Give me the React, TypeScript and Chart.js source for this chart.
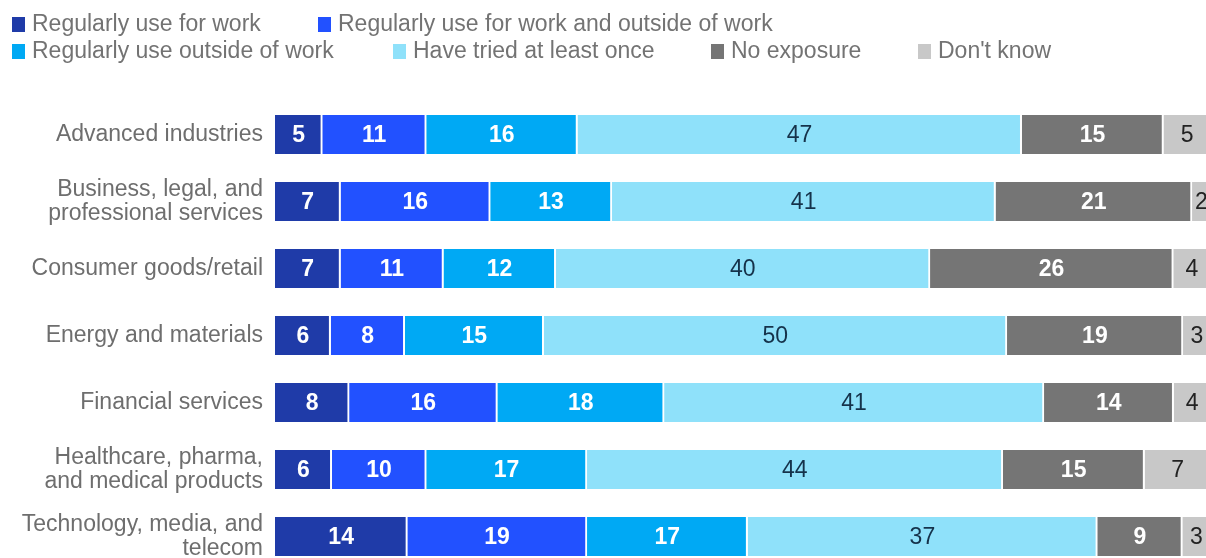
import { useEffect, useRef } from "react";
import { Chart, registerables } from "chart.js";

Chart.register(...registerables);

const CATEGORIES: string[][] = [
  ["Advanced industries"],
  ["Business, legal, and", "professional services"],
  ["Consumer goods/retail"],
  ["Energy and materials"],
  ["Financial services"],
  ["Healthcare, pharma,", "and medical products"],
  ["Technology, media, and", "telecom"],
];

const SERIES_LABELS = [
  "Regularly use for work",
  "Regularly use for work and outside of work",
  "Regularly use outside of work",
  "Have tried at least once",
  "No exposure",
  "Don't know",
];

const WORK = [5, 7, 7, 6, 8, 6, 14];
const WORK_AND_OUTSIDE = [11, 16, 11, 8, 16, 10, 19];
const OUTSIDE = [16, 13, 12, 15, 18, 17, 17];
const TRIED = [47, 41, 40, 50, 41, 44, 37];
const NO_EXPOSURE = [15, 21, 26, 19, 14, 15, 9];
const DONT_KNOW = [5, 2, 4, 3, 4, 7, 3];

const COLORS = ["#1f3ba8", "#2251ff", "#00a9f4", "#8fe1fa", "#757575", "#c8c8c8"];
const LABEL_COLORS = ["#ffffff", "#ffffff", "#ffffff", "#15324a", "#ffffff", "#222222"];
const LABEL_BOLD = [true, true, true, false, true, false];

const FONT = '"Liberation Sans", Arial, sans-serif';

// legend layout (rows of series indices and box x positions)
const LEGEND_ROWS = [
  { y: 24, items: [0, 1], xs: [12, 318] },
  { y: 51, items: [2, 3, 4, 5], xs: [12, 393, 711, 918] },
];

export default function App() {
  const ref = useRef<HTMLCanvasElement>(null);

  useEffect(() => {
    const canvas = ref.current;
    if (!canvas) return;
    const values = [WORK, WORK_AND_OUTSIDE, OUTSIDE, TRIED, NO_EXPOSURE, DONT_KNOW];
    const totals = CATEGORIES.map((_, i) => values.reduce((s, v) => s + v[i], 0));

    const datasets = SERIES_LABELS.map((label, k) => ({
      label,
      data: values[k].map((v, i) => (v / totals[i]) * 100),
      backgroundColor: COLORS[k],
      borderColor: "#ffffff",
      borderWidth: { top: 0, bottom: 0, left: 0, right: 2 },
      borderSkipped: false as const,
      barThickness: 39,
    }));

    const valueLabels = {
      id: "valueLabels",
      afterDatasetsDraw(chart: any) {
        const ctx = chart.ctx;
        ctx.save();
        ctx.textAlign = "center";
        ctx.textBaseline = "middle";
        chart.data.datasets.forEach((_: any, k: number) => {
          const meta = chart.getDatasetMeta(k);
          meta.data.forEach((bar: any, i: number) => {
            const cx = (bar.x + bar.base) / 2;
            ctx.font = `${LABEL_BOLD[k] ? "bold " : ""}23px ${FONT}`;
            ctx.fillStyle = LABEL_COLORS[k];
            ctx.fillText(String(values[k][i]), cx, bar.y + 1);
          });
        });
        ctx.restore();
      },
    };

    const legendPlugin = {
      id: "customLegend",
      afterDraw(chart: any) {
        const ctx = chart.ctx;
        ctx.save();
        ctx.textBaseline = "middle";
        ctx.textAlign = "left";
        ctx.font = `23px ${FONT}`;
        LEGEND_ROWS.forEach((row) => {
          row.items.forEach((k, j) => {
            const x = row.xs[j];
            ctx.fillStyle = COLORS[k];
            ctx.fillRect(x, row.y - 7, 13, 15);
            ctx.fillStyle = "#737373";
            ctx.fillText(chart.data.datasets[k].label, x + 20, row.y + 1);
          });
        });
        ctx.restore();
      },
    };

    const chart = new Chart(canvas, {
      type: "bar",
      data: { labels: CATEGORIES, datasets },
      options: {
        indexAxis: "y",
        responsive: false,
        animation: false,
        layout: { padding: { top: 101, bottom: 2, left: 0, right: 0 } },
        plugins: {
          legend: { display: false },
          tooltip: { enabled: false },
        },
        scales: {
          x: { stacked: true, min: 0, max: 99.5, display: false },
          y: {
            stacked: true,
            grid: { display: false, drawTicks: false },
            border: { display: false },
            ticks: {
              color: "#6e6e6e",
              padding: 12,
              font: { family: FONT, size: 23, lineHeight: 1.04 },
            },
            afterFit: (s: any) => {
              s.width = 275;
            },
          },
        },
      },
      plugins: [valueLabels, legendPlugin],
    });
    return () => chart.destroy();
  }, []);

  return (
    <div
      style={{
        position: "fixed",
        left: 0,
        top: 0,
        width: 1206,
        height: 558,
        overflow: "hidden",
        background: "#ffffff",
      }}
    >
      <canvas ref={ref} width={1206} height={594} style={{ display: "block" }} />
    </div>
  );
}
